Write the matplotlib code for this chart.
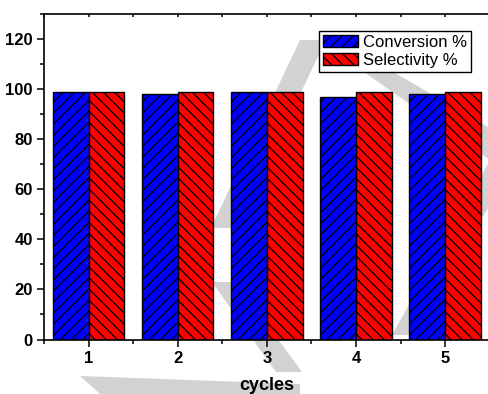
import numpy as np
import matplotlib.pyplot as plt
from matplotlib.patches import Polygon
from matplotlib.ticker import MultipleLocator

plt.rcParams['font.family'] = ['Liberation Sans', 'DejaVu Sans']
plt.rcParams['hatch.linewidth'] = 0.9

cycles = [1, 2, 3, 4, 5]
conversion = [99, 98, 99, 97, 98]
selectivity = [99, 99, 99, 99, 99]

W, H = 488, 394
fig = plt.figure(figsize=(W / 100, H / 100), dpi=100)

# light grey watermark behind the plot (pixel coords, y from top)
marks = [
    [(300, 40), (326, 40), (236, 228), (211, 228)],
    [(318, 40), (338, 40), (490, 128), (490, 160)],
    [(490, 160), (490, 205), (410, 335), (392, 335)],
    [(212, 282), (236, 282), (302, 372), (276, 372)],
    [(80, 376), (300, 384), (300, 394), (100, 394)],
]
for m in marks:
    pts = [(x / W, 1 - y / H) for x, y in m]
    fig.patches.append(Polygon(pts, closed=True, transform=fig.transFigure,
                               facecolor='#d2d2d2', edgecolor='none', zorder=-5))

ax = fig.add_axes([44 / W, 1 - 339.5 / H, (489.7 - 44) / W, (339.5 - 14) / H])
ax.set_facecolor('none')

x = np.array(cycles)
w = 0.4
ax.bar(x - w / 2, conversion, w, color='#0000ff', edgecolor='black',
       linewidth=1, hatch='///', label='Conversion %')
ax.bar(x + w / 2, selectivity, w, color='#ff0000', edgecolor='black',
       linewidth=1, hatch='\\\\\\', label='Selectivity %')

ax.set_xlim(0.5, 5.5)
ax.set_ylim(0, 130)
ax.set_xticks(cycles)
ax.xaxis.set_minor_locator(MultipleLocator(0.5))
ax.set_yticks([0, 20, 40, 60, 80, 100, 120])
ax.yaxis.set_minor_locator(MultipleLocator(10))

for s in ax.spines.values():
    s.set_linewidth(1.2)
ax.spines['right'].set_visible(False)

ax.tick_params(axis='both', which='major', direction='out', length=5, width=1.1,
               labelsize=12, pad=3)
ax.tick_params(axis='both', which='minor', direction='out', length=3, width=1.1)
for lab in ax.get_xticklabels() + ax.get_yticklabels():
    lab.set_fontweight('bold')

# short inward ticks along the top edge
top = ax.secondary_xaxis('top')
top.set_xticks(cycles)
top.xaxis.set_minor_locator(MultipleLocator(0.5))
top.tick_params(which='both', direction='in', length=2.5, width=1.1, labeltop=False)
top.spines['top'].set_visible(False)

ax.set_xlabel('cycles', fontsize=13, fontweight='bold', labelpad=8)

leg = ax.legend(loc='upper left', bbox_to_anchor=(0.617, 0.948), borderaxespad=0,
                fontsize=12, frameon=True, fancybox=False, edgecolor='black',
                handlelength=2.1, handleheight=0.75, handletextpad=0.3,
                borderpad=0.25, labelspacing=0.15)
leg.get_frame().set_linewidth(1)
leg.get_frame().set_alpha(1)

fig.savefig('out.png', dpi=100)
